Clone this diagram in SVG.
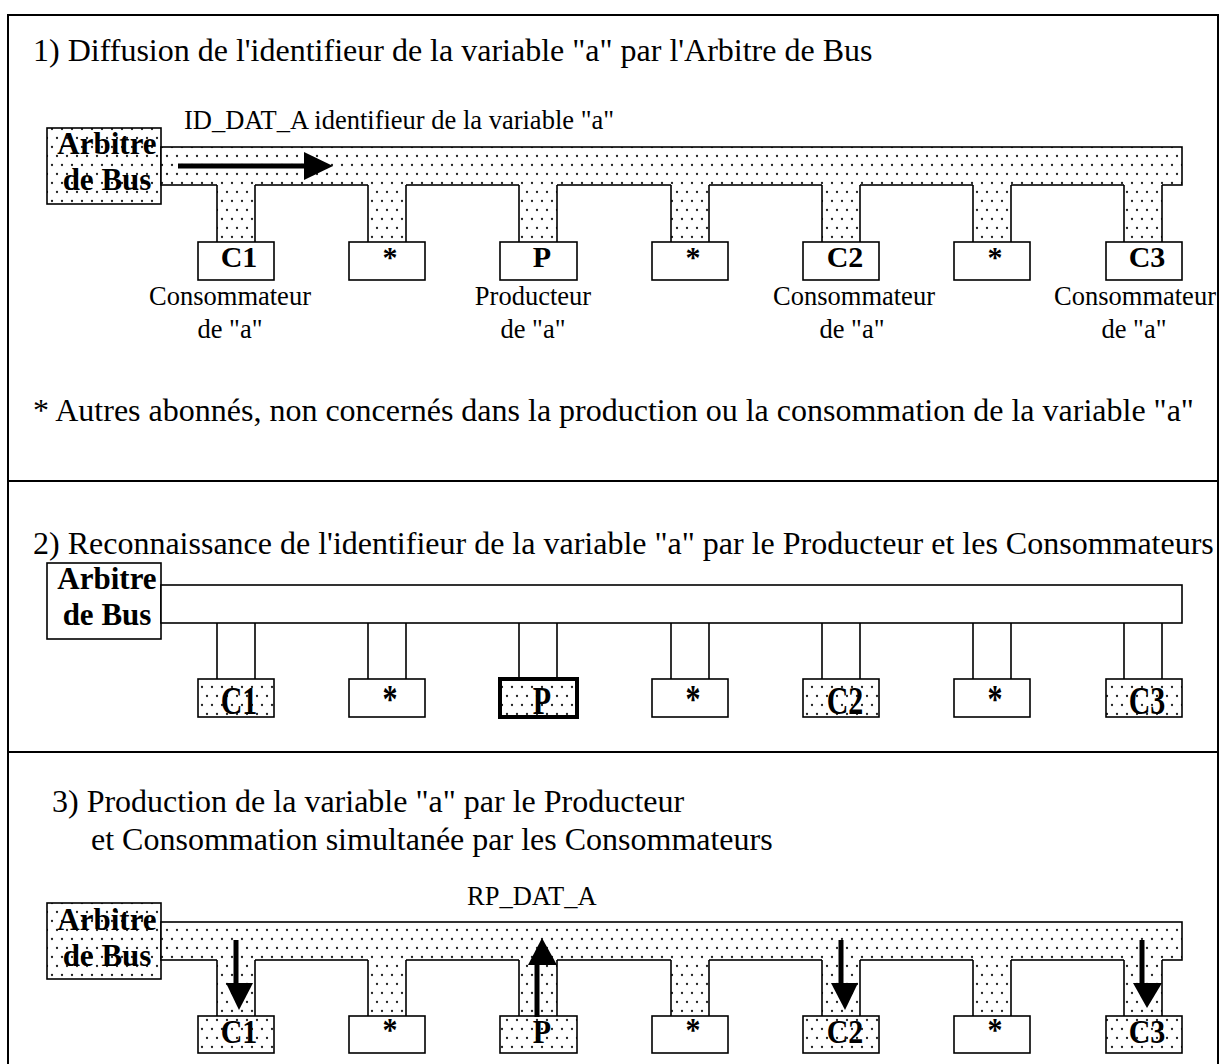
<svg xmlns="http://www.w3.org/2000/svg" width="1223" height="1064" viewBox="0 0 1223 1064">
<defs>
<pattern id="dots" width="10" height="18" patternUnits="userSpaceOnUse">
<rect width="10" height="18" fill="#fff"/>
<circle cx="2" cy="3" r="1.15" fill="#222"/>
<circle cx="7" cy="12" r="1.15" fill="#222"/>
</pattern>
<style>
.t{font-family:"Liberation Serif","Times New Roman",serif;font-size:32px;fill:#000}
.s{font-family:"Liberation Serif","Times New Roman",serif;font-size:26.5px;fill:#000}
.b{font-family:"Liberation Serif","Times New Roman",serif;font-size:30px;font-weight:bold;fill:#000;text-anchor:middle}
.ab{font-family:"Liberation Serif","Times New Roman",serif;font-size:31px;font-weight:bold;fill:#000;text-anchor:middle}
.m{text-anchor:middle}
.box{fill:#fff;stroke:#000;stroke-width:1.6}
.dbox{fill:url(#dots);stroke:#000;stroke-width:1.6}
.dfill{fill:url(#dots);stroke:none}
.ln{fill:none;stroke:#000;stroke-width:1.6}
.frame{fill:none;stroke:#000;stroke-width:2}
.shaft{stroke:#000;stroke-width:5;fill:none}
.head{fill:#000;stroke:none}
</style>
</defs>
<rect width="1223" height="1064" fill="#fff"/>
<g id="frame">
<rect class="frame" x="8" y="15" width="1210" height="1060"/>
<line class="frame" x1="8" y1="481" x2="1218" y2="481"/>
<line class="frame" x1="8" y1="752" x2="1218" y2="752"/>
</g>

<!-- Section 1 -->
<g id="section1">
<text class="t" x="33" y="61">1) Diffusion de l'identifieur de la variable "a" par l'Arbitre de Bus</text>
<text class="s" x="184" y="129">ID_DAT_A identifieur de la variable "a"</text>
<g id="s1-arbitre">
<rect class="dbox" x="47" y="128" width="114" height="76"/>
<text class="ab" x="107" y="154">Arbitre</text>
<text class="ab" x="107" y="190">de Bus</text>
</g>
<g id="s1-bus"><rect class="dbox" x="161" y="147" width="1021" height="38"/></g>
<g id="s1-c1">
<rect class="dfill" x="217" y="184" width="38" height="58"/>
<path class="ln" d="M217 185V242M255 185V242"/>
<rect class="box" x="198" y="242" width="76" height="38"/>
<text class="b" x="239" y="267">C1</text>
<text class="s m" x="230" y="305">Consommateur</text>
<text class="s m" x="230" y="338">de "a"</text>
</g>
<g id="s1-o1">
<rect class="dfill" x="368" y="184" width="38" height="58"/>
<path class="ln" d="M368 185V242M406 185V242"/>
<rect class="box" x="349" y="242" width="76" height="38"/>
<text class="b" x="390" y="267">*</text>
</g>
<g id="s1-p">
<rect class="dfill" x="519" y="184" width="38" height="58"/>
<path class="ln" d="M519 185V242M557 185V242"/>
<rect class="box" x="500" y="242" width="77" height="38"/>
<text class="b" x="542" y="267">P</text>
<text class="s m" x="533" y="305">Producteur</text>
<text class="s m" x="533" y="338">de "a"</text>
</g>
<g id="s1-o2">
<rect class="dfill" x="671" y="184" width="38" height="58"/>
<path class="ln" d="M671 185V242M709 185V242"/>
<rect class="box" x="652" y="242" width="76" height="38"/>
<text class="b" x="693" y="267">*</text>
</g>
<g id="s1-c2">
<rect class="dfill" x="822" y="184" width="38" height="58"/>
<path class="ln" d="M822 185V242M860 185V242"/>
<rect class="box" x="803" y="242" width="76" height="38"/>
<text class="b" x="845" y="267">C2</text>
<text class="s m" x="854" y="305">Consommateur</text>
<text class="s m" x="852" y="338">de "a"</text>
</g>
<g id="s1-o3">
<rect class="dfill" x="973" y="184" width="38" height="58"/>
<path class="ln" d="M973 185V242M1011 185V242"/>
<rect class="box" x="954" y="242" width="76" height="38"/>
<text class="b" x="995" y="267">*</text>
</g>
<g id="s1-c3">
<rect class="dfill" x="1124" y="184" width="38" height="58"/>
<path class="ln" d="M1124 185V242M1162 185V242"/>
<rect class="box" x="1106" y="242" width="76" height="38"/>
<text class="b" x="1147" y="267">C3</text>
<text class="s m" x="1135" y="305">Consommateur</text>
<text class="s m" x="1134" y="338">de "a"</text>
</g>
<text class="t" x="33" y="421">* Autres abonnés, non concernés dans la production ou la consommation de la variable "a"</text>
</g>

<!-- Section 2 -->
<g id="section2">
<text class="t" x="33" y="554">2) Reconnaissance de l'identifieur de la variable "a" par le Producteur et les Consommateurs</text>
<g id="s2-arbitre">
<rect class="box" x="47" y="563" width="114" height="76"/>
<text class="ab" x="107" y="589">Arbitre</text>
<text class="ab" x="107" y="625">de Bus</text>
</g>
<g id="s2-bus"><rect class="box" x="161" y="585" width="1021" height="38"/></g>
<g id="s2-c1">
<path class="ln" d="M217 623V679M255 623V679"/>
<rect class="dbox" x="198" y="679" width="76" height="38"/>
<text class="b" transform="translate(239 714) scale(1 1.3)">C1</text>
</g>
<g id="s2-o1">
<path class="ln" d="M368 623V679M406 623V679"/>
<rect class="box" x="349" y="679" width="76" height="38"/>
<text class="b" transform="translate(390 712) scale(1 1.3)">*</text>
</g>
<g id="s2-p">
<path class="ln" d="M519 623V679M557 623V679"/>
<rect class="dbox" x="500" y="679" width="77" height="38" style="stroke-width:4"/>
<text class="b" transform="translate(542 714) scale(1 1.3)">P</text>
</g>
<g id="s2-o2">
<path class="ln" d="M671 623V679M709 623V679"/>
<rect class="box" x="652" y="679" width="76" height="38"/>
<text class="b" transform="translate(693 712) scale(1 1.3)">*</text>
</g>
<g id="s2-c2">
<path class="ln" d="M822 623V679M860 623V679"/>
<rect class="dbox" x="803" y="679" width="76" height="38"/>
<text class="b" transform="translate(845 714) scale(1 1.3)">C2</text>
</g>
<g id="s2-o3">
<path class="ln" d="M973 623V679M1011 623V679"/>
<rect class="box" x="954" y="679" width="76" height="38"/>
<text class="b" transform="translate(995 712) scale(1 1.3)">*</text>
</g>
<g id="s2-c3">
<path class="ln" d="M1124 623V679M1162 623V679"/>
<rect class="dbox" x="1106" y="679" width="76" height="38"/>
<text class="b" transform="translate(1147 714) scale(1 1.3)">C3</text>
</g>
</g>

<!-- Section 3 -->
<g id="section3">
<text class="t" x="52" y="812">3) Production de la variable "a" par le Producteur</text>
<text class="t" x="91" y="850">et Consommation simultanée par les Consommateurs</text>
<text class="s" x="467" y="905">RP_DAT_A</text>
<g id="s3-arbitre">
<rect class="dbox" x="47" y="903" width="114" height="76"/>
<text class="ab" x="107" y="930">Arbitre</text>
<text class="ab" x="107" y="966">de Bus</text>
</g>
<g id="s3-bus"><rect class="dbox" x="161" y="922" width="1021" height="38"/></g>
<g id="s3-c1">
<rect class="dfill" x="217" y="959" width="38" height="57"/>
<path class="ln" d="M217 960V1016M255 960V1016"/>
<rect class="dbox" x="198" y="1016" width="76" height="37"/>
<text class="b" transform="translate(239 1043) scale(1 1.1)">C1</text>
</g>
<g id="s3-o1">
<rect class="dfill" x="368" y="959" width="38" height="57"/>
<path class="ln" d="M368 960V1016M406 960V1016"/>
<rect class="box" x="349" y="1016" width="76" height="37"/>
<text class="b" transform="translate(390 1041) scale(1 1.1)">*</text>
</g>
<g id="s3-p">
<rect class="dfill" x="519" y="959" width="38" height="57"/>
<path class="ln" d="M519 960V1016M557 960V1016"/>
<rect class="dbox" x="500" y="1016" width="77" height="37"/>
<text class="b" transform="translate(542 1043) scale(1 1.1)">P</text>
</g>
<g id="s3-o2">
<rect class="dfill" x="671" y="959" width="38" height="57"/>
<path class="ln" d="M671 960V1016M709 960V1016"/>
<rect class="box" x="652" y="1016" width="76" height="37"/>
<text class="b" transform="translate(693 1041) scale(1 1.1)">*</text>
</g>
<g id="s3-c2">
<rect class="dfill" x="822" y="959" width="38" height="57"/>
<path class="ln" d="M822 960V1016M860 960V1016"/>
<rect class="dbox" x="803" y="1016" width="76" height="37"/>
<text class="b" transform="translate(845 1043) scale(1 1.1)">C2</text>
</g>
<g id="s3-o3">
<rect class="dfill" x="973" y="959" width="38" height="57"/>
<path class="ln" d="M973 960V1016M1011 960V1016"/>
<rect class="box" x="954" y="1016" width="76" height="37"/>
<text class="b" transform="translate(995 1041) scale(1 1.1)">*</text>
</g>
<g id="s3-c3">
<rect class="dfill" x="1124" y="959" width="38" height="57"/>
<path class="ln" d="M1124 960V1016M1162 960V1016"/>
<rect class="dbox" x="1106" y="1016" width="76" height="37"/>
<text class="b" transform="translate(1147 1043) scale(1 1.1)">C3</text>
</g>
</g>

<g id="connectors">
<line class="shaft" x1="178" y1="166" x2="307" y2="166"/>
<polygon class="head" points="304,152 333,166 304,180"/>
<line class="shaft" x1="236" y1="940" x2="236" y2="986"/>
<polygon class="head" points="226,983 253,983 239,1010"/>
<line class="shaft" x1="841" y1="940" x2="841" y2="986"/>
<polygon class="head" points="831,983 858,983 845,1010"/>
<line class="shaft" x1="1142" y1="940" x2="1142" y2="986"/>
<polygon class="head" points="1133,983 1162,983 1147,1008"/>
<line class="shaft" x1="537" y1="1017" x2="537" y2="962"/>
<polygon class="head" points="528,965 557,965 542,938"/>
</g>
</svg>
